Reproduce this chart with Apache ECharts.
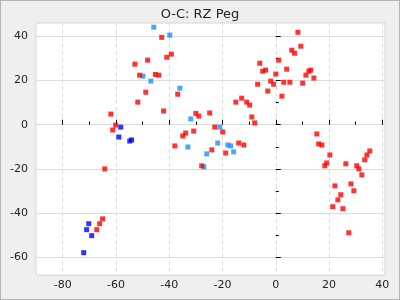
<!DOCTYPE html>
<html>
<head>
<meta charset="utf-8">
<script src="https://cdn.jsdelivr.net/npm/echarts@6/dist/echarts.min.js"></script>
<style>
html,body{margin:0;padding:0;background:#efefef;}
#c{width:400px;height:300px;box-sizing:border-box;border:1px solid #b4b4b4;}
</style>
</head>
<body>
<div id="c"></div>
<script>
const titleText = 'O-C: RZ Peg';
const xMajorTicks = [-80, -60, -40, -20, 0, 20, 40];
const xMinorTicks = [-70, -50, -30, -10, 10, 30];
const yMajorTicks = [-60, -40, -20, 0, 20, 40];
const yMinorTicks = [-50, -30, -10, 10, 30];

const redX = [-42.8,-39.2,-40.9,-52.9,-48.1,-51.1,-45.2,-43.9,-48.8,-51.8,-42.1,-36.8,-61.9,-60.1,-61.2,-64.2,-37.9,-34.9,-33.8,-30.0,-28.9,-30.8,-27.8,-24.8,-22.9,-24.0,-19.9,-18.8,-15.0,-12.8,-10.9,-9.8,-9.0,-7.9,-13.9,-12.0,-6.0,-4.9,-3.8,-6.8,-1.9,-0.8,0.0,-3.0,1.1,4.1,3.0,5.3,2.3,6.0,7.1,8.3,9.4,10.1,11.3,12.4,13.1,14.3,15.4,16.1,17.3,20.3,19.1,18.4,22.2,24.4,23.3,21.4,25.2,26.3,28.2,29.3,27.4,30.4,31.2,32.3,33.4,34.2,35.3,-67.2,-66.1,-65.0];
const redY = [39.5,31.9,30.5,27.4,29.2,22.4,22.7,22.4,14.7,10.2,6.2,13.8,4.8,-0.2,-2.4,-20.0,-9.6,-5.1,-3.8,5.1,3.9,-2.9,-18.6,5.3,-1.1,-11.4,-3.3,-12.8,10.2,12.0,10.2,8.9,3.5,0.8,-8.3,-9.2,27.8,24.2,24.7,18.3,19.7,18.3,22.9,15.2,29.2,25.1,19.2,19.2,12.9,33.7,32.3,41.8,35.5,18.8,22.4,24.2,24.7,21.1,-4.2,-8.7,-9.2,-13.7,-17.3,-18.6,-27.7,-31.7,-34.0,-37.1,-38.0,-17.7,-26.8,-29.9,-48.9,-18.6,-20.0,-22.7,-15.9,-13.7,-11.9,-47.5,-44.8,-42.6];

const blueX = [-72.1,-71.0,-70.2,-69.1,-58.9,-58.2,-54.8,-54.1];
const blueY = [-57.9,-47.5,-44.8,-50.2,-5.6,-1.1,-7.4,-6.9];

const lightX = [-45.8,-39.8,-49.9,-46.9,-36.0,-31.9,-33.0,-27.0,-25.9,-21.8,-21.0,-18.0,-16.9,-15.8];
const lightY = [44.1,40.5,22.0,19.7,16.5,2.6,-10.1,-19.1,-13.2,-8.3,-1.1,-9.2,-9.6,-12.3];

function pairs(xs, ys){ return xs.map((x,i)=>[x, ys[i]]); }

const chart = echarts.init(document.getElementById('c'), null, {renderer:'canvas'});
const labelStyle = {color:'#222', fontSize:11, fontFamily:'DejaVu Sans'};
const xMin = -90, xMax = 41, yMin = -68, yMax = 46;

chart.setOption({
  backgroundColor: '#efefef',
  animation: false,
  title: {
    text: titleText, left: 'center', top: 2,
    textStyle: {fontSize: 13, fontWeight: 'normal', color: '#222', fontFamily: 'DejaVu Sans'}
  },
  grid: {left: 35, right: 14, top: 22, bottom: 24, show: true, backgroundColor: '#fff', borderColor: '#d4d4d4', borderWidth: 1},
  xAxis: [
    {type:'value', min:xMin, max:xMax, position:'bottom',
     axisLine:{show:false},
     axisTick:{show:true, inside:true, length:5, customValues:xMajorTicks, lineStyle:{color:'#000'}},
     axisLabel:{customValues:xMajorTicks, margin:5, ...labelStyle},
     splitLine:{show:true, lineStyle:{color:'#dcdcdc', type:[4,3]}}},
    {type:'value', min:xMin, max:xMax, position:'bottom',
     axisLine:{show:false},
     axisTick:{show:true, inside:true, length:3, customValues:xMinorTicks, lineStyle:{color:'#000'}},
     axisLabel:{show:false},
     splitLine:{show:false}}
  ],
  yAxis: [
    {type:'value', min:yMin, max:yMax, position:'left',
     axisLine:{show:false},
     axisTick:{show:true, inside:true, length:5, customValues:yMajorTicks, lineStyle:{color:'#000'}},
     axisLabel:{customValues:yMajorTicks, margin:8, ...labelStyle},
     splitLine:{show:true, lineStyle:{color:'#dcdcdc', type:'solid'}}},
    {type:'value', min:yMin, max:yMax, position:'left',
     axisLine:{show:false},
     axisTick:{show:true, inside:true, length:3, customValues:yMinorTicks, lineStyle:{color:'#000'}},
     axisLabel:{show:false},
     splitLine:{show:false}}
  ],
  series: [
    {type:'scatter', name:'light', symbol:'rect', symbolSize:5, data:pairs(lightX, lightY), itemStyle:{color:'#1e8fff'}},
    {type:'scatter', name:'blue', symbol:'rect', symbolSize:5, data:pairs(blueX, blueY), itemStyle:{color:'#0000ff'}},
    {type:'scatter', name:'red', symbol:'rect', symbolSize:5, data:pairs(redX, redY), itemStyle:{color:'#ff0000'}}
  ]
});
</script>
</body>
</html>
